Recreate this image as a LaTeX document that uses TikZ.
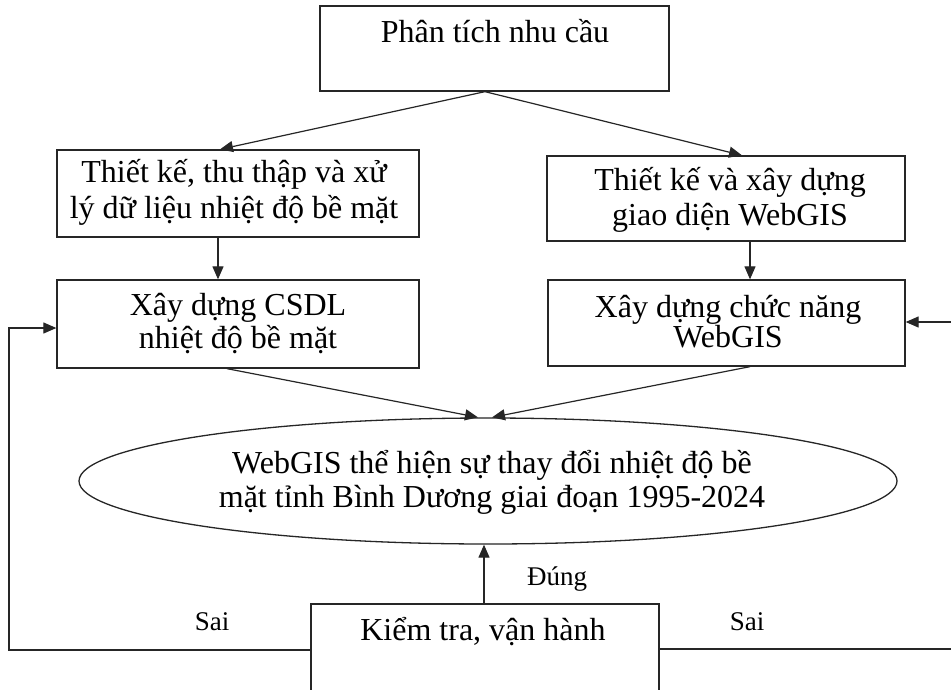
\documentclass[tikz,border=0pt]{standalone}
\usepackage{fontspec}
\setmainfont{Liberation Serif}
\usetikzlibrary{arrows.meta,shapes.geometric}
\begin{document}
\begin{tikzpicture}[x=1pt,y=-1pt,
  box/.style={draw=black!85,line width=1.3pt,rectangle,inner sep=0pt},
  oval/.style={draw=black!85,line width=1.3pt,ellipse,inner sep=0pt},
  txt/.style={anchor=base,inner sep=0pt,font=\fontsize{32}{37}\selectfont},
  lbl/.style={anchor=base,inner sep=0pt,font=\fontsize{27}{31}\selectfont},
  arr/.style={draw=black!85,line width=1.2pt,-{Triangle[length=13pt,width=11pt]}},
  ln/.style={draw=black!85,line width=1.2pt}]
\useasboundingbox (0,0) rectangle (951,689);
\clip (0,0) rectangle (951,689);
\fill[white] (0,0) rectangle (951,689);
% boxes
\node[box,minimum width=349pt,minimum height=85pt] (top) at (494.5,48.5) {};
\node[box,minimum width=362pt,minimum height=87pt] (L1) at (238,193.5) {};
\node[box,minimum width=358pt,minimum height=85pt] (R1) at (726,198.5) {};
\node[box,minimum width=362pt,minimum height=88pt] (L2) at (238,324) {};
\node[box,minimum width=357pt,minimum height=86pt] (R2) at (726.5,323) {};
\node[oval,minimum width=818pt,minimum height=126pt] (E) at (488,481) {};
\node[box,minimum width=348pt,minimum height=116pt] (bot) at (485,662) {};
% texts
\node[txt] (ttop) at (495,42) {Phân tích nhu cầu};
\node[txt] (tL1a) at (234,182) {Thiết kế, thu thập và xử};
\node[txt] (tL1b) at (234,218) {lý dữ liệu nhiệt độ bề mặt};
\node[txt] (tR1a) at (730,190) {Thiết kế và xây dựng};
\node[txt] (tR1b) at (730,225) {giao diện WebGIS};
\node[txt] (tL2a) at (238,315) {Xây dựng CSDL};
\node[txt] (tL2b) at (238,348) {nhiệt độ bề mặt};
\node[txt] (tR2a) at (728,317) {Xây dựng chức năng};
\node[txt] (tR2b) at (728,347) {WebGIS};
\node[txt] (tEa) at (492,473) {WebGIS thể hiện sự thay đổi nhiệt độ bề};
\node[txt] (tEb) at (492,507) {mặt tỉnh Bình Dương giai đoạn 1995-2024};
\node[txt] (tbot) at (483,640) {Kiểm tra, vận hành};
\node[lbl] (dung) at (557,585) {Đúng};
\node[lbl] (sai1) at (212,630) {Sai};
\node[lbl] (sai2) at (747,630) {Sai};
% connectors
\draw[arr] ([xshift=-9.5pt]top.south) -- ([xshift=-18pt]L1.north);
\draw[arr] ([xshift=-9.5pt]top.south) -- ([xshift=16pt]R1.north);
\draw[arr] ([xshift=-20pt]L1.south) -- ([xshift=-20pt]L2.north);
\draw[arr] ([xshift=24pt]R1.south) -- ([xshift=23.5pt]R2.north);
\draw[arr] ([xshift=-11pt]L2.south) -- ([xshift=-10pt]E.north);
\draw[arr] ([xshift=23.5pt]R2.south) -- ([xshift=4pt]E.north);
\draw[arr] ([xshift=-1pt]bot.north) -- ([xshift=-4pt]E.south);
\coordinate (lc) at (9,650);
\coordinate (rc) at (960,649);
\draw[arr] ([yshift=12pt]bot.west) -- (lc) |- ([yshift=-4pt]L2.west);
\draw[arr] ([yshift=13pt]bot.east) -- (rc) |- ([yshift=1pt]R2.east);
\end{tikzpicture}
\end{document}
